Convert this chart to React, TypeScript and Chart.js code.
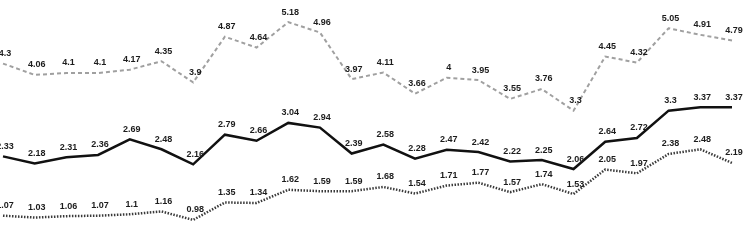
import React, { useEffect, useRef } from "react";
import { Chart, registerables } from "chart.js";

Chart.register(...registerables);

const categories = Array.from({ length: 24 }, (_, i) => String(i + 1));
const topSeries = [4.3, 4.06, 4.1, 4.1, 4.17, 4.35, 3.9, 4.87, 4.64, 5.18, 4.96, 3.97, 4.11, 3.66, 4, 3.95, 3.55, 3.76, 3.3, 4.45, 4.32, 5.05, 4.91, 4.79];
const midSeries = [2.33, 2.18, 2.31, 2.36, 2.69, 2.48, 2.16, 2.79, 2.66, 3.04, 2.94, 2.39, 2.58, 2.28, 2.47, 2.42, 2.22, 2.25, 2.06, 2.64, 2.72, 3.3, 3.37, 3.37];
const lowSeries = [1.07, 1.03, 1.06, 1.07, 1.1, 1.16, 0.98, 1.35, 1.34, 1.62, 1.59, 1.59, 1.68, 1.54, 1.71, 1.77, 1.57, 1.74, 1.53, 2.05, 1.97, 2.38, 2.48, 2.19];

const labelPlugin = {
  id: "valueLabels",
  afterDatasetsDraw(chart: any) {
    const ctx = chart.ctx;
    ctx.save();
    ctx.font = "bold 9px 'Liberation Sans', Arial, sans-serif";
    ctx.fillStyle = "#1c1c1c";
    ctx.textAlign = "center";
    ctx.textBaseline = "middle";
    chart.data.datasets.forEach((ds: any, di: number) => {
      const meta = chart.getDatasetMeta(di);
      meta.data.forEach((pt: any, i: number) => {
        ctx.fillText(String(ds.data[i]), pt.x + 2, pt.y - 10);
      });
    });
    ctx.restore();
  },
};

export default function App() {
  const ref = useRef<HTMLCanvasElement>(null);
  useEffect(() => {
    document.body.style.margin = "0";
    const chart = new Chart(ref.current!, {
      type: "line",
      data: {
        labels: categories,
        datasets: [
          {
            data: topSeries,
            borderColor: "#a0a0a0",
            borderWidth: 2,
            borderDash: [4, 3],
            pointRadius: 0,
            tension: 0,
          },
          {
            data: midSeries,
            borderColor: "#111111",
            borderWidth: 2.5,
            pointRadius: 0,
            tension: 0,
          },
          {
            data: lowSeries,
            borderColor: "#3a3a3a",
            borderWidth: 2.5,
            borderDash: [1.5, 1.5],
            pointRadius: 0,
            tension: 0,
          },
        ],
      },
      options: {
        animation: false,
        responsive: false,
        events: [],
        layout: { padding: { left: 3, right: 19, top: 0, bottom: 0 } },
        plugins: { legend: { display: false }, tooltip: { enabled: false } },
        scales: {
          x: { display: false, offset: false },
          y: { display: false, min: 0.32, max: 5.65 },
        },
      },
      plugins: [labelPlugin],
    });
    return () => chart.destroy();
  }, []);
  return (
    <div style={{ position: "absolute", left: 0, top: 0, width: 751, height: 251, background: "#fff" }}>
      <canvas ref={ref} width={751} height={251} style={{ width: 751, height: 251 }} />
    </div>
  );
}
